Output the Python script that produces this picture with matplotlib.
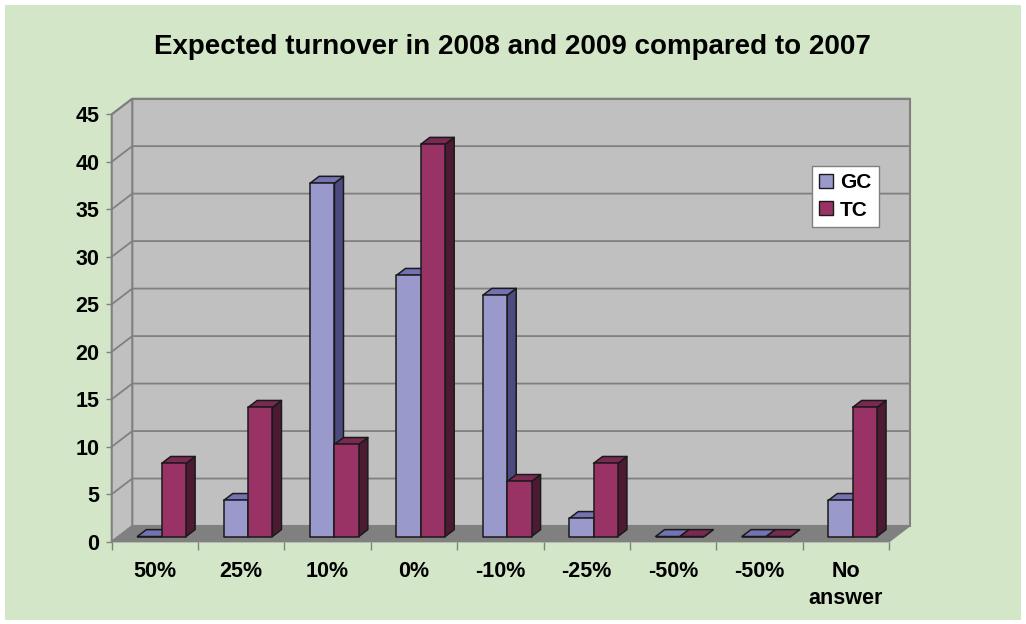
import matplotlib
matplotlib.use("Agg")
import matplotlib.pyplot as plt
from matplotlib.patches import Polygon, Rectangle, Patch

plt.rcParams['font.family'] = ['Liberation Sans', 'DejaVu Sans']

categories = ["50%", "25%", "10%", "0%", "-10%", "-25%", "-50%", "-50%", "No\nanswer"]
gc_values = [0, 3.8, 37.2, 27.5, 25.4, 1.9, 0, 0, 3.8]
tc_values = [7.7, 13.6, 9.7, 41.3, 5.8, 7.7, 0, 0, 13.6]
series_names = ["GC", "TC"]
yticks = list(range(0, 46, 5))

# front / side / top shade for each series
shades = {
    "GC": ("#9999CC", "#4B4B80", "#7373B3"),
    "TC": ("#993366", "#4D1A33", "#7A2952"),
}

DX, DY = 0.238, 1.65   # depth of the fake 3d box (data units)
F0, F1 = 0.33, 0.77    # bars sit between these depth fractions
BAR_W = 0.282
WALL = "#C0C0C0"
GRID = "#808080"

fig = plt.figure(figsize=(10.26, 6.24), dpi=100)
fig.patch.set_facecolor("white")
fig.patches.append(Rectangle((5 / 1026, 4 / 624), 1016 / 1026, 615 / 624,
                             transform=fig.transFigure, facecolor="#D3E6C8",
                             edgecolor="none", zorder=-5))

ax = fig.add_axes([0.1089, 0.1319, 0.7576, 0.6849])
n = len(categories)
ymax = yticks[-1]
ax.set_xlim(0, n)
ax.set_ylim(0, ymax)
ax.patch.set_visible(False)
for s in ax.spines.values():
    s.set_visible(False)

# walls and floor
walls = [
    ([(DX, DY), (n + DX, DY), (n + DX, ymax + DY), (DX, ymax + DY)], WALL),
    ([(0, 0), (DX, DY), (DX, ymax + DY), (0, ymax)], WALL),
]
for pts, c in walls:
    ax.add_patch(Polygon(pts, closed=True, fc=c, ec=GRID, lw=1.5,
                         clip_on=False, zorder=1))
for t in yticks[1:]:
    ax.plot([0, DX, n + DX], [t, t + DY, t + DY], color=GRID, lw=1.3,
            clip_on=False, zorder=2)
ax.add_patch(Polygon([(0, 0), (n, 0), (n + DX, DY), (DX, DY)], closed=True,
                     fc="#808080", ec="#808080", lw=1, clip_on=False, zorder=2))


def draw_bar(x0, v, cols):
    front, side, top = cols
    ddx, ddy = (F1 - F0) * DX, (F1 - F0) * DY
    x0 = x0 + F0 * DX
    x1 = x0 + BAR_W
    b = F0 * DY
    h = b + v
    faces = [
        ([(x1, b), (x1 + ddx, b + ddy), (x1 + ddx, h + ddy), (x1, h)], side),
        ([(x0, h), (x1, h), (x1 + ddx, h + ddy), (x0 + ddx, h + ddy)], top),
        ([(x0, b), (x1, b), (x1, h), (x0, h)], front),
    ]
    for pts, c in faces:
        ax.add_patch(Polygon(pts, closed=True, fc=c, ec="#1A1A1A", lw=1.1,
                             joinstyle="round", clip_on=False, zorder=3))


for i in range(n):
    draw_bar(i + 0.5 - BAR_W, gc_values[i], shades["GC"])
    draw_bar(i + 0.5, tc_values[i], shades["TC"])

# axes ticks
ax.set_yticks(yticks)
ax.set_yticklabels([str(t) for t in yticks], fontsize=15.5, fontweight="bold")
ax.tick_params(axis="y", length=4, width=1, color=GRID, pad=5)
ax.set_xticks(range(n + 1))
ax.set_xticklabels([])
ax.set_xticks([i + 0.5 for i in range(n)], minor=True)
ax.set_xticklabels(categories, minor=True, fontsize=15.5, fontweight="bold",
                   linespacing=1.35)
ax.tick_params(axis="x", which="major", length=6, width=1, color=GRID)
ax.tick_params(axis="x", which="minor", length=0, pad=14)

handles = [Patch(fc=shades[s][0], ec="#1A1A1A", lw=1) for s in series_names]
leg = ax.legend(handles, series_names, loc="upper left",
                bbox_to_anchor=(812 / 1026, 458 / 624),
                bbox_transform=fig.transFigure, frameon=True, fancybox=False,
                framealpha=1, edgecolor="#808080",
                prop={"size": 15, "weight": "bold"}, handlelength=0.65,
                handleheight=0.65, handletextpad=0.35, labelspacing=0.4,
                borderpad=0.35, borderaxespad=0)
leg.get_frame().set_linewidth(1)
leg.set_zorder(5)

fig.text(0.499, 0.925, "Expected turnover in 2008 and 2009 compared to 2007",
         fontsize=20, fontweight="bold", ha="center", va="center")

fig.savefig("out.png", dpi=100)
